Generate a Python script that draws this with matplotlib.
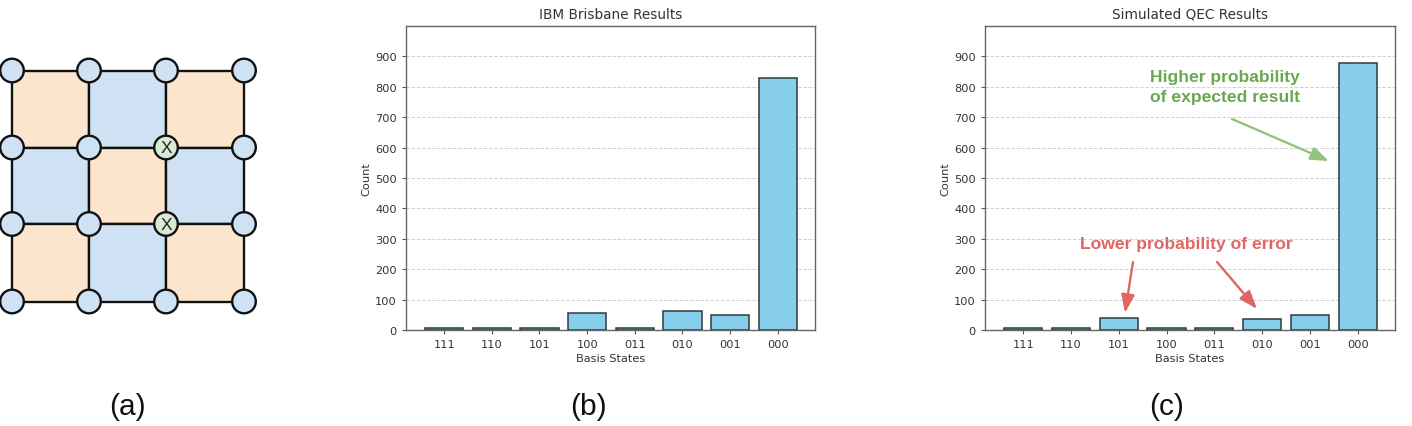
import matplotlib
matplotlib.use('Agg')
import matplotlib.pyplot as plt
from matplotlib.patches import Rectangle, Circle

W, H = 1412, 427

#bar data
states = ['111', '110', '101', '100', '011', '010', '001', '000']
brisbane_counts = [8, 8, 5, 55, 8, 62, 48, 830]
qec_counts = [5, 5, 40, 5, 5, 37, 48, 877]
yticks = [0, 100, 200, 300, 400, 500, 600, 700, 800, 900]

#surface code lattice, in pixels
grid_x = [12, 89, 166, 244]
grid_y = [71.5, 148.5, 225, 302.5]
x_qubits = [(2, 1), (2, 2)]

BLUE = '#cfe2f3'
ORANGE = '#fce5cd'
GREEN = '#d9ead3'
TEXT = '#333333'

fig = plt.figure(figsize=(W / 100, H / 100), dpi=100)


def bar_panel(left, right, top, bottom, counts, title):
    ax = fig.add_axes([left / W, 1 - bottom / H, (right - left) / W, (bottom - top) / H])
    ax.bar(states, counts, width=0.8, color='skyblue', edgecolor='#2f3b40', linewidth=1.1, zorder=3)
    ax.set_xlim(-0.8, 7.78)
    ax.set_ylim(0, 1000)
    ax.set_yticks(yticks)
    ax.grid(axis='y', linestyle='--', color='#d2d2d2', linewidth=0.7, zorder=0)
    ax.set_title(title, fontsize=9.85, color=TEXT, pad=6)
    ax.set_xlabel('Basis States', fontsize=8.2, color=TEXT, labelpad=3)
    ax.set_ylabel('Count', fontsize=8.2, color=TEXT, labelpad=3)
    ax.tick_params(labelsize=8.2, labelcolor=TEXT, color='#555555', length=3, width=0.8)
    for s in ax.spines.values():
        s.set_color('#666666')
        s.set_linewidth(1.0)
    return ax


bar_panel(406, 815, 27, 331, brisbane_counts, 'IBM Brisbane Results')
bar_panel(985, 1395, 27, 331, qec_counts, 'Simulated QEC Results')

#overlay in pixel coords for the lattice, labels and callouts
ov = fig.add_axes([0, 0, 1, 1])
ov.set_xlim(0, W)
ov.set_ylim(H, 0)
ov.axis('off')
ov.patch.set_alpha(0)

for j in range(3):
    for i in range(3):
        c = ORANGE if (i + j) % 2 == 0 else BLUE
        ov.add_patch(Rectangle((grid_x[i], grid_y[j]), grid_x[i + 1] - grid_x[i], grid_y[j + 1] - grid_y[j],
                               facecolor=c, edgecolor='#111111', linewidth=1.7, zorder=1))

for j in range(4):
    for i in range(4):
        is_x = (i, j) in x_qubits
        ov.add_patch(Circle((grid_x[i], grid_y[j]), 11.8, facecolor=GREEN if is_x else BLUE,
                            edgecolor='#111111', linewidth=1.7, zorder=2))
        if is_x:
            ov.text(grid_x[i], grid_y[j] + 0.5, 'X', ha='center', va='center', fontsize=12.5,
                    family='Liberation Sans', color='#222222', zorder=3)

for x, lab in zip([127.5, 588.5, 1167], ['(a)', '(b)', '(c)']):
    ov.text(x, 407, lab, ha='center', va='center', fontsize=21.5, family='Liberation Sans', color='#111111')

ov.text(1224.5, 87.5, 'Higher probability\nof expected result', ha='center', va='center', fontsize=12.6,
        fontweight='bold', family='Liberation Sans', color='#6aa84f', linespacing=1.38)
ov.text(1186.5, 245, 'Lower probability of error', ha='center', va='center', fontsize=12.6,
        fontweight='bold', family='Liberation Sans', color='#e06666')


def callout(start, end, colour):
    ov.annotate('', xy=end, xytext=start,
                arrowprops=dict(arrowstyle='-|>,head_width=0.4,head_length=1.1', color=colour, lw=1.7,
                                shrinkA=0, shrinkB=0))


callout((1232, 120), (1329, 162), '#93c47d')
callout((1133, 263), (1125, 314), '#e06666')
callout((1217, 263), (1257, 310), '#e06666')

fig.savefig('out.png', dpi=100)
